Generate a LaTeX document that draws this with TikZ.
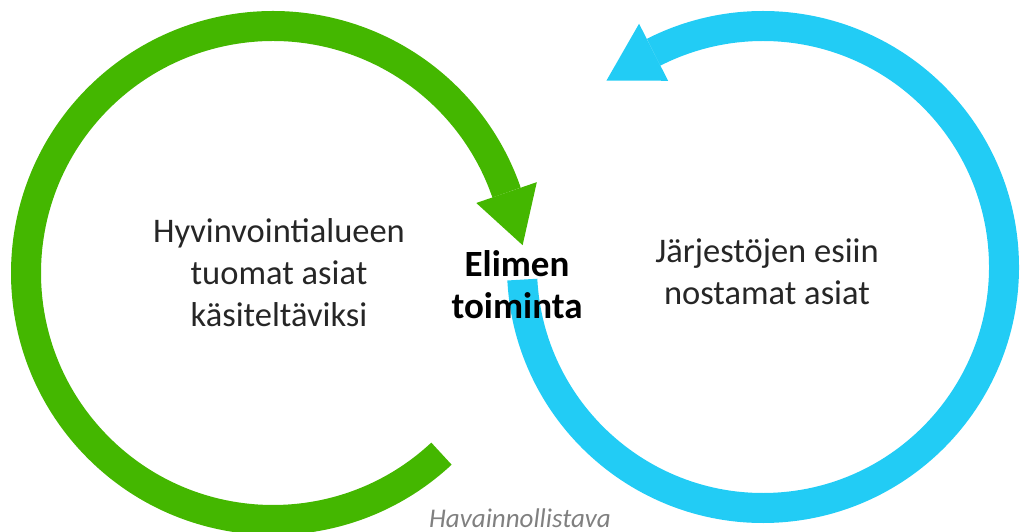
\documentclass[tikz,border=0pt]{standalone}
\usepackage{fontspec}
\setmainfont{Carlito}
\usepackage{tikz}
\usetikzlibrary{calc}

\definecolor{ringgreen}{RGB}{68,183,0}
\definecolor{ringblue}{RGB}{34,204,245}
\definecolor{textgray}{RGB}{38,38,38}

\tikzset{
    ring/.style={line width=30, line cap=butt},
    headfill/.style={draw=none},
    bodytext/.style={align=center, text=textgray, font=\fontsize{34.5}{42}\selectfont},
}

\begin{document}
\begin{tikzpicture}[x=1pt,y=1pt]
            \useasboundingbox (0,0) rectangle (1020,532);

            % Centres of the two rings
            \coordinate (gc) at (273,259);
            \coordinate (bc) at (763,265);

            % Green ring - runs clockwise from bottom right to the middle
            \draw[ring, ringgreen] ($(gc)+(-47:247)$) arc[start angle=-47, end angle=-341, radius=247];
            \fill[headfill, ringgreen] ($(gc)+(19:215)$) -- ($(gc)+(19:279)$) -- ($(gc)+(19:247)+(-73:55)$) -- cycle;

            % Blue ring - runs counterclockwise from the middle to top left
            \draw[ring, ringblue] ($(bc)+(183:241)$) arc[start angle=183, end angle=477, radius=241];
            \fill[headfill, ringblue] ($(bc)+(117:209)$) -- ($(bc)+(117:273)$) -- ($(bc)+(117:241)+(211:55)$) -- cycle;

            % Labels
            \node[bodytext] (welfare) at (279,259) {Hyvinvointialueen\\tuomat asiat\\käsiteltäviksi};
            \node[bodytext] (orgs) at (767,260) {Järjestöjen esiin\\nostamat asiat};
            \node[align=center, font=\fontsize{37}{42}\selectfont\bfseries] (organ) at (517,247) {Elimen\\toiminta};
            \node[text=gray, font=\fontsize{27}{30}\selectfont\itshape] (note) at (520,14) {Havainnollistava};
        \end{tikzpicture}
\end{document}
